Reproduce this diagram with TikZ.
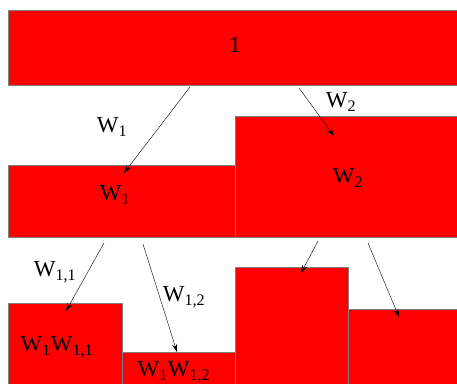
\documentclass[tikz,border=0pt]{standalone}
\usepackage{fontspec}
\setmainfont{Liberation Serif}
\usetikzlibrary{arrows.meta}
\begin{document}
\begin{tikzpicture}[x=1pt,y=-1pt,
  blk/.style={fill=red,draw=black!50,line width=0.35pt},
  arr/.style={line width=0.4pt,-{Stealth[length=8pt,width=5pt]}},
  lbl/.style={font=\fontsize{23}{26}\selectfont,inner sep=0pt}]
\useasboundingbox (0,0) rectangle (457,383);
% rectangles
\path[blk] (8,10) rectangle (458,85);
\path[blk] (8,165) rectangle (235,237);
\path[blk] (235,116) rectangle (458,237);
\path[blk] (8,303) rectangle (122,384);
\path[blk] (122,352) rectangle (235,384);
\path[blk] (235,267) rectangle (348,384);
\path[blk] (348,309) rectangle (458,384);
% texts
\node[lbl] (t1) at (235,45) {1};
\node[lbl] (lw1) at (112,127) {W\textsubscript{1}};
\node[lbl] (lw2) at (341,102) {W\textsubscript{2}};
\node[lbl] (bw1) at (115,195) {W\textsubscript{1}};
\node[lbl] (bw2) at (348,178) {W\textsubscript{2}};
\node[lbl] (lw11) at (55,272) {W\textsubscript{1,1}};
\node[lbl] (lw12) at (184,297) {W\textsubscript{1,2}};
\node[lbl] (bw11) at (57,347) {W\textsubscript{1}W\textsubscript{1,1}};
\node[lbl] (bw12) at (174,372) {W\textsubscript{1}W\textsubscript{1,2}};
% arrow ends
\coordinate (a1s) at (190,87);  \coordinate (a1e) at (124,173);
\coordinate (a2s) at (299,88);  \coordinate (a2e) at (334,136);
\coordinate (a3s) at (104,243); \coordinate (a3e) at (66,311);
\coordinate (a4s) at (143,244); \coordinate (a4e) at (177,352);
\coordinate (a5s) at (318,241); \coordinate (a5e) at (301,273);
\coordinate (a6s) at (368,243); \coordinate (a6e) at (399,317);
\draw[arr] (a1s) -- (a1e);
\draw[arr] (a2s) -- (a2e);
\draw[arr] (a3s) -- (a3e);
\draw[arr] (a4s) -- (a4e);
\draw[arr] (a5s) -- (a5e);
\draw[arr] (a6s) -- (a6e);
\end{tikzpicture}
\end{document}
